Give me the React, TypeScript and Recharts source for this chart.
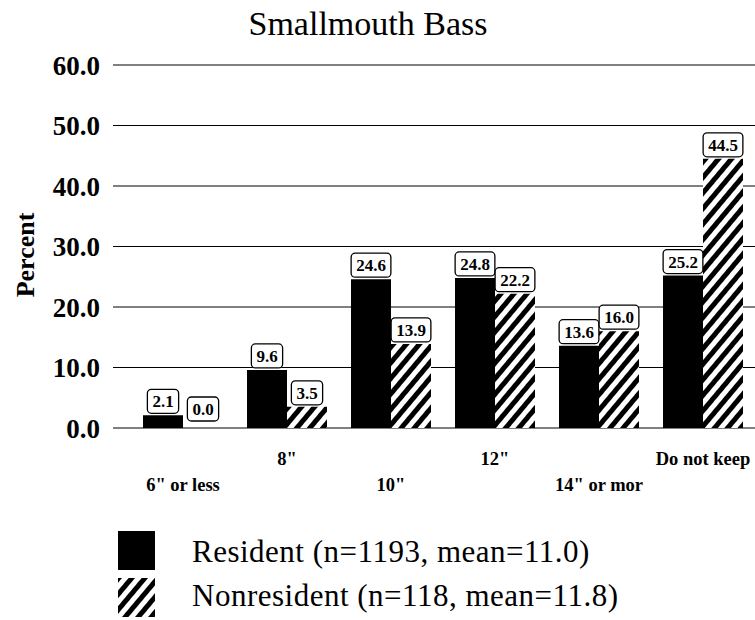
import React from 'react';
import { BarChart, Bar, XAxis, YAxis, CartesianGrid, LabelList } from 'recharts';

const categories = ['6" or less', '8"', '10"', '12"', '14" or mor', 'Do not keep'];
const residentValues = [2.1, 9.6, 24.6, 24.8, 13.6, 25.2];
const nonresidentValues = [0.0, 3.5, 13.9, 22.2, 16.0, 44.5];
const yTicks = [0, 10, 20, 30, 40, 50, 60];
const titleText = 'Smallmouth Bass';
const yLabel = 'Percent';
const residentLabel = 'Resident (n=1193, mean=11.0)';
const nonresidentLabel = 'Nonresident (n=118, mean=11.8)';

const data = categories.map((c, i) => ({
  category: c,
  resident: residentValues[i],
  nonresident: nonresidentValues[i],
}));

const FONT = '"Liberation Serif", "Times New Roman", Times, serif';

const textWidth = (s: string, size: number) => {
  let w = 0;
  for (const ch of s) w += ch === '.' ? 0.25 : 0.5;
  return w * size;
};

const ValueLabel = (props: any) => {
  const { x, y, width, value } = props;
  if (value === undefined || value === null) return null;
  const txt = Number(value).toFixed(1);
  const fs = 17;
  const bw = textWidth(txt, fs) + 10;
  const bh = 24;
  const cx = Number(x) + Number(width) / 2;
  const by = Number(y) - bh - (Number(value) === 0 ? 7 : 2);
  return (
    <g>
      <rect x={cx - bw / 2} y={by} width={bw} height={bh} rx={4} ry={4} fill="#fff" stroke="#000" strokeWidth={1.3} />
      <text x={cx} y={by + bh / 2 + 6} textAnchor="middle" fontFamily={FONT} fontWeight="bold" fontSize={fs} fill="#000">
        {txt}
      </text>
    </g>
  );
};

const XTick = (props: any) => {
  const { x, y, payload, index } = props;
  const row = index % 2 === 1 ? 37 : 63;
  return (
    <text x={x} y={Number(y) + row} textAnchor="middle" fontFamily={FONT} fontWeight="bold" fontSize={18.5} fill="#000">
      {payload.value}
    </text>
  );
};

const zeroMin = (value: any) => (Number(value) === 0 ? 0.01 : 0);

export default function App() {
  return (
    <div style={{ position: 'absolute', left: 0, top: 0, width: 755, height: 620, background: '#fff' }}>
      <svg width={755} height={620} style={{ position: 'absolute', left: 0, top: 0, pointerEvents: 'none', zIndex: 2 }}>
        <defs>
          <pattern id="hatch" patternUnits="userSpaceOnUse" width={10} height={10} patternTransform="rotate(40)">
            <rect x={0} y={0} width={10} height={10} fill="#fff" />
            <rect x={0} y={0} width={5} height={10} fill="#000" />
          </pattern>
        </defs>
        <text x={368} y={35} textAnchor="middle" fontFamily={FONT} fontSize={34} fill="#000">
          {titleText}
        </text>
        <text
          x={34}
          y={255}
          textAnchor="middle"
          fontFamily={FONT}
          fontWeight="bold"
          fontSize={26}
          fill="#000"
          transform="rotate(-90, 34, 255)"
        >
          {yLabel}
        </text>
        <rect x={118} y={531} width={37} height={39} fill="#000" />
        <rect x={118} y={578} width={37} height={39} fill="url(#hatch)" />
        <text x={192} y={562} fontFamily={FONT} fontSize={31} letterSpacing={0.5} fill="#000">
          {residentLabel}
        </text>
        <text x={192} y={606} fontFamily={FONT} fontSize={31} letterSpacing={0.5} fill="#000">
          {nonresidentLabel}
        </text>
      </svg>
      <div style={{ position: 'absolute', left: 0, top: 0, zIndex: 1 }}>
        <BarChart
          width={755}
          height={620}
          data={data}
          margin={{ top: 65, right: 0, bottom: 122, left: 0 }}
          barCategoryGap={12}
          barGap={0}
        >
          <CartesianGrid vertical={false} stroke="#000" strokeWidth={1} />
          <XAxis
            dataKey="category"
            axisLine={false}
            tickLine={false}
            tickSize={0}
            tickMargin={0}
            height={70}
            interval={0}
            padding={{ left: 18, right: 0 }}
            tick={<XTick />}
          />
          <YAxis
            domain={[0, 60]}
            ticks={yTicks}
            width={113}
            axisLine={false}
            tickLine={false}
            tickSize={0}
            tickMargin={13}
            interval={0}
            tickFormatter={(v: number) => v.toFixed(1)}
            tick={{ fontFamily: FONT, fontWeight: 'bold', fontSize: 27, fill: '#000' }}
          />
          <Bar dataKey="resident" fill="#000" isAnimationActive={false}>
            <LabelList dataKey="resident" content={<ValueLabel />} />
          </Bar>
          <Bar dataKey="nonresident" fill="url(#hatch)" minPointSize={zeroMin} isAnimationActive={false}>
            <LabelList dataKey="nonresident" content={<ValueLabel />} />
          </Bar>
        </BarChart>
      </div>
    </div>
  );
}
